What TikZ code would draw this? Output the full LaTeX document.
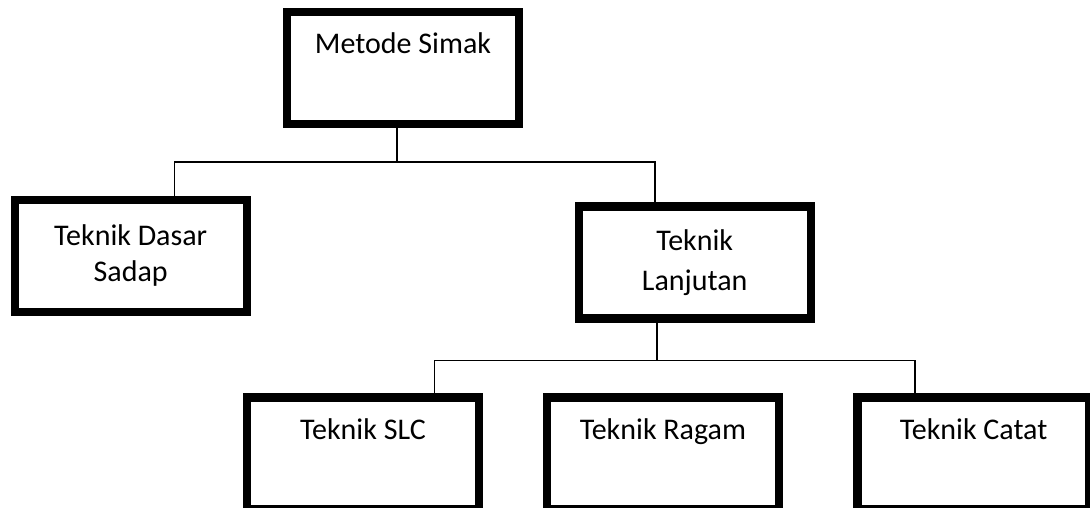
\documentclass[tikz,border=0pt]{standalone}
\usepackage{fontspec}
\setmainfont{Carlito}
\usetikzlibrary{positioning}
\begin{document}
\begin{tikzpicture}[x=1pt, y=-1pt]
    % Define Styles
        \tikzstyle{block} = [
            rectangle,
            draw,
            fill=white,
            align = center,
            inner sep = 0pt,
            minimum width = 232pt,
            minimum height = 112pt,
            line width = 8.4pt,
            font = \fontsize{30}{38}\selectfont
        ]
        \tikzstyle{topblock} = [
            block,
            anchor = base,
            text height = 41.5pt,
            text depth = 70.5pt
        ]
        \tikzstyle{line} = [
            draw,
            line width = 1.5pt
        ]
    % Frame
        \clip (0,0) rectangle (1090,508);
        \fill[white] (0,0) rectangle (1090,508);
    % Place nodes
        \node [topblock] (simak) at (403,53.5) {Metode Simak};
        \node [block, font=\fontsize{30}{36}\selectfont] (dasar) at (130.7,255.8) {%
            Teknik Dasar \\
            Sadap
        };
        \node [block, font=\fontsize{30}{40}\selectfont] (lanjut) at (694.7,262.4) {%
            Teknik \\
            Lanjutan
        };
        \node [topblock] (slc) at (363,439) {Teknik SLC};
        \node [topblock, right = 59.5pt of slc] (ragam) {Teknik Ragam};
        \node [topblock, right = 70.3pt of ragam] (catat) {Teknik Catat};
    % Draw edges
        \coordinate (bus1) at (397,162);
        \coordinate (bus2) at (657,360.5);
        \path [line] ([xshift=-6pt]simak.south) -- (bus1);
        \path [line] (bus1) -| ([xshift=43.6pt]dasar.north);
        \path [line] (bus1) -| ([xshift=-39.7pt]lanjut.north);
        \path [line] ([xshift=-37.7pt]lanjut.south) -- (bus2);
        \path [line] (bus2) -| ([xshift=71.3pt]slc.north);
        \path [line] (bus2) -| ([xshift=-58.4pt]catat.north);
\end{tikzpicture}
\end{document}
